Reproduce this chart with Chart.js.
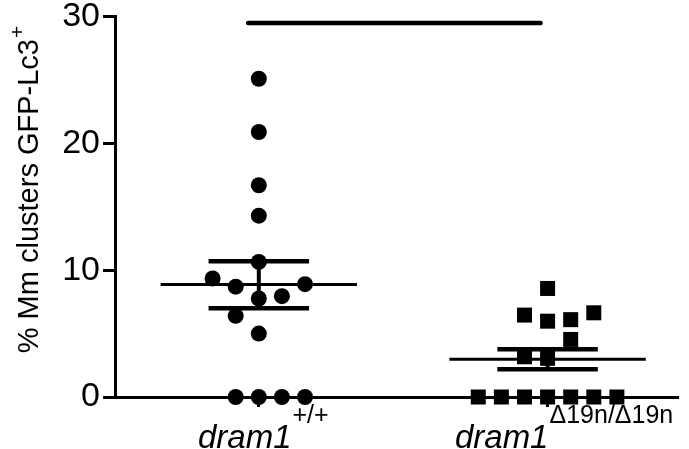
<!DOCTYPE html>
<html>
<head>
<meta charset="utf-8">
<script src="https://cdn.jsdelivr.net/npm/chart.js@4"></script>
<style>
  html, body { margin: 0; padding: 0; background: #fff; }
  #wrap { width: 689px; height: 449px; }
</style>
</head>
<body>
<div id="wrap"><canvas id="chart"></canvas></div>
<script>
// ================= DATA =================
const GROUP_X = [1, 2];
const GROUP_MAIN = ["dram1", "dram1"];
const GROUP_SUP = ["+/+", "\u039419n/\u039419n"];

// wild type (circles)
const wtValues = [25.1, 20.9, 16.7, 14.3, 10.65, 9.35, 8.7, 8.9, 7.95, 7.77, 6.4, 5.0, 0, 0, 0, 0];
const wtSlots  = [0, 0, 0, 0, 0, -2, -1, 2, 1, 0, -1, 0, -1, 0, 1, 2];

// mutant (squares)
const mutValues = [8.56, 6.46, 6.64, 5.98, 6.1, 4.54, 3.17, 3.05, 0, 0, 0, 0, 0, 0, 0];
const mutSlots  = [0, -1, 2, 0, 1, 1, -1, 0, -3, -2, -1, 0, 1, 2, 3];

// mean +/- SEM
const means = [8.87, 2.97];
const semUpper = [10.7, 3.76];
const semLower = [7.0, 2.18];

// significance bar
const sigY = 29.5;
const sigFrom = 0.963;
const sigTo = 1.976;

const Y_TICKS = [0, 10, 20, 30];
const Y_TITLE = "% Mm clusters GFP-Lc3";
const Y_TITLE_SUP = "+";

const SLOT_W = 0.08;     // jitter step in x units
const MEAN_HALF = 0.34;  // half width of mean line
const CAP_HALF = 0.174;  // half width of SEM caps
const FONT = "'Liberation Sans', Arial, sans-serif";

// ================= DATASETS =================
function pts(values, slots, gx) {
  return values.map((v, i) => ({ x: gx + slots[i] * SLOT_W, y: v }));
}

function seg(data, width) {
  return {
    type: "line",
    data,
    borderColor: "#000",
    borderWidth: width,
    pointRadius: 0,
    showLine: true,
    fill: false,
    clip: false,
    borderCapStyle: "butt"
  };
}

const datasets = [
  {
    label: "wt",
    data: pts(wtValues, wtSlots, GROUP_X[0]),
    pointStyle: "circle",
    pointRadius: 8,
    backgroundColor: "#000",
    borderColor: "#000",
    borderWidth: 0,
    clip: false
  },
  {
    label: "mut",
    data: pts(mutValues, mutSlots, GROUP_X[1]),
    pointStyle: "rect",
    pointRadius: 10.6,
    backgroundColor: "#000",
    borderColor: "#000",
    borderWidth: 0,
    clip: false
  }
];

GROUP_X.forEach((gx, i) => {
  datasets.push(seg([{ x: gx - MEAN_HALF, y: means[i] }, { x: gx + MEAN_HALF, y: means[i] }], 3));
  datasets.push(seg([{ x: gx - CAP_HALF, y: semUpper[i] }, { x: gx + CAP_HALF, y: semUpper[i] }], 4.5));
  datasets.push(seg([{ x: gx - CAP_HALF, y: semLower[i] }, { x: gx + CAP_HALF, y: semLower[i] }], 4.5));
  datasets.push(seg([{ x: gx, y: semLower[i] }, { x: gx, y: semUpper[i] }], 4));
});

const sig = seg([{ x: sigFrom, y: sigY }, { x: sigTo, y: sigY }], 4.5);
sig.borderCapStyle = "round";
datasets.push(sig);

// ================= TEXT PLUGIN =================
const labelPlugin = {
  id: "labels",
  afterDraw(c) {
    const ctx = c.ctx;
    const xs = c.scales.x;
    ctx.save();
    ctx.fillStyle = "#000";
    ctx.textBaseline = "alphabetic";
    ctx.textAlign = "left";

    // x category labels
    const shift = [4, 16];
    GROUP_X.forEach((gx, i) => {
      const px = xs.getPixelForValue(gx);
      ctx.font = "italic 33px " + FONT;
      const wMain = ctx.measureText(GROUP_MAIN[i]).width;
      ctx.font = "25px " + FONT;
      const wSup = ctx.measureText(GROUP_SUP[i]).width;
      const start = px - (wMain + wSup) / 2 + shift[i];
      ctx.font = "italic 33px " + FONT;
      ctx.fillText(GROUP_MAIN[i], start, 448);
      ctx.font = "25px " + FONT;
      ctx.fillText(GROUP_SUP[i], start + wMain + 1, 423);
    });

    // y title
    ctx.translate(38, 190);
    ctx.rotate(-Math.PI / 2);
    ctx.font = "29px " + FONT;
    const wT = ctx.measureText(Y_TITLE).width;
    ctx.font = "21px " + FONT;
    const wS = ctx.measureText(Y_TITLE_SUP).width;
    const s = -(wT + wS) / 2;
    ctx.font = "29px " + FONT;
    ctx.fillText(Y_TITLE, s, 0);
    ctx.font = "21px " + FONT;
    ctx.fillText(Y_TITLE_SUP, s + wT + 1, -14);
    ctx.restore();
  }
};

// ================= CHART =================
const chart = new Chart(document.getElementById("chart"), {
  type: "scatter",
  data: { datasets },
  options: {
    responsive: true,
    maintainAspectRatio: false,
    animation: false,
    layout: { padding: { top: 16, right: 0, left: 0, bottom: 0 } },
    plugins: { legend: { display: false }, tooltip: { enabled: false } },
    scales: {
      x: {
        type: "linear",
        min: 0.502,
        max: 2.453,
        afterBuildTicks: s => { s.ticks = GROUP_X.map(v => ({ value: v })); },
        afterFit: s => { s.height = 52; },
        ticks: { display: false },
        grid: {
          drawOnChartArea: false,
          drawTicks: true,
          tickLength: 10,
          tickWidth: 3,
          tickColor: "#000"
        },
        border: { color: "#000", width: 3 }
      },
      y: {
        min: 0,
        max: 30,
        afterBuildTicks: s => { s.ticks = Y_TICKS.map(v => ({ value: v })); },
        afterFit: s => { s.width = 115; },
        ticks: {
          color: "#000",
          padding: 3,
          font: { family: FONT, size: 34, lineHeight: 0.8 }
        },
        grid: {
          drawOnChartArea: false,
          drawTicks: true,
          tickLength: 12,
          tickWidth: 3,
          tickColor: "#000"
        },
        border: { color: "#000", width: 3 }
      }
    }
  },
  plugins: [labelPlugin]
});
</script>
</body>
</html>
